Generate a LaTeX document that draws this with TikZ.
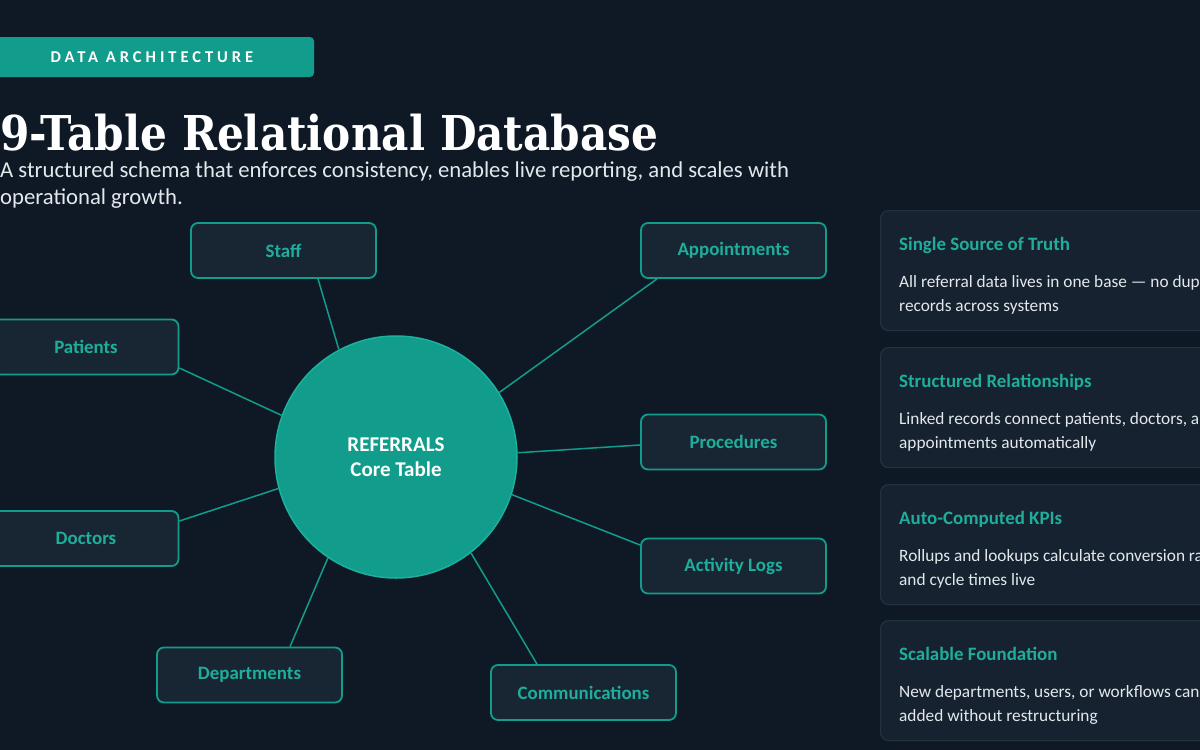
\documentclass[tikz,border=0pt]{standalone}
\usepackage{fontspec}
\setmainfont{Carlito}
\newfontfamily\titlefont[FakeStretch=0.88]{DejaVu Serif}
\usetikzlibrary{calc}
\definecolor{bg}{HTML}{0F1926}
\definecolor{tealc}{HTML}{129C8B}
\definecolor{coreline}{HTML}{1CB09D}
\definecolor{tealtxt}{HTML}{1FAE9B}
\definecolor{boxfill}{HTML}{182634}
\definecolor{cardfill}{HTML}{162230}
\definecolor{cardline}{HTML}{23323F}
\definecolor{bodytxt}{HTML}{E3E8EC}
\tikzset{
  tablebox/.style={draw=tealc, line width=1.8pt, fill=boxfill, rounded corners=7pt,
    minimum width=185pt, minimum height=55pt, inner sep=0pt,
    text=tealtxt, font=\bfseries\fontsize{18.9}{20}\selectfont},
  link/.style={draw=tealc, line width=1.5pt},
  card/.style={draw=cardline, line width=1.2pt, fill=cardfill, rounded corners=8pt,
    minimum width=340pt, minimum height=120pt, anchor=north west, inner sep=0pt},
  cardtitle/.style={anchor=base west, inner sep=0pt, text=tealtxt, font=\bfseries\fontsize{18.9}{20}\selectfont},
  cardbody/.style={anchor=base west, inner sep=0pt, text=bodytxt, font=\fontsize{17.3}{18}\selectfont},
}
\begin{document}
\begin{tikzpicture}[x=1pt,y=-1pt]
\useasboundingbox (0,0) rectangle (1200,750);
\fill[bg] (0,0) rectangle (1200,750);
\begin{scope}
\clip (0,0) rectangle (1200,750);
% badge
\node[fill=tealc, rounded corners=4pt, minimum width=324pt, minimum height=40pt, inner sep=0pt,
  text=white, font=\bfseries\fontsize{16.5}{18}\selectfont\addfontfeatures{LetterSpace=24}] (badge) at (152,57) {DATA ARCHITECTURE};
% title
\node[anchor=base west, inner sep=0pt, text=white, font=\titlefont\bfseries\fontsize{48}{50}\selectfont] (title) at (0,150) {9-Table Relational Database};
\node[anchor=base west, inner sep=0pt, text=bodytxt, font=\fontsize{22.7}{27}\selectfont] (sub1) at (0,177) {A structured schema that enforces consistency, enables live reporting, and scales with};
\node[anchor=base west, inner sep=0pt, text=bodytxt, font=\fontsize{22.7}{27}\selectfont] (sub2) at (0,204) {operational growth.};
% core
\node[circle, fill=tealc, draw=coreline, line width=1.5pt, inner sep=0pt, minimum size=242pt, text=white,
  align=center, font=\bfseries\fontsize{21}{25}\selectfont] (core) at (396,457) {REFERRALS\\Core Table};
% tables
\node[tablebox] (staff) at (283.5,250.5) {Staff};
\node[tablebox] (patients) at (86,347) {Patients};
\node[tablebox] (doctors) at (86,538.5) {Doctors};
\node[tablebox] (departments) at (249.5,675) {Departments};
\node[tablebox] (communications) at (583.5,692.5) {Communications};
\node[tablebox] (activity) at (733.5,566) {Activity Logs};
\node[tablebox] (procedures) at (733.5,442) {Procedures};
\node[tablebox] (appointments) at (733.5,250.5) {Appointments};
% links
\draw[link] ([xshift=34.5pt]staff.south) -- (core.118);
\draw[link] ([yshift=-21pt]patients.east) -- (core.160);
\draw[link] ([yshift=17.5pt]doctors.east) -- (core.195);
\draw[link] ([xshift=40.5pt]departments.north) -- (core.236);
\draw[link] ([xshift=-46.5pt]communications.north) -- (core.-52);
\draw[link] ([yshift=21pt]activity.west) -- (core.-18);
\draw[link] ([yshift=-3pt]procedures.west) -- (core.2);
\draw[link] ([xshift=-76.5pt]appointments.south) -- (core.32);
% cards
\node[card] (c1) at (880,210) {};
\node[cardtitle] (c1t) at (899,250) {Single Source of Truth};
\node[cardbody] (c1a) at (899,287) {All referral data lives in one base — no duplicate};
\node[cardbody] (c1b) at (899,311) {records across systems};
\node[card] (c2) at (880,347) {};
\node[cardtitle] (c2t) at (899,387) {Structured Relationships};
\node[cardbody] (c2a) at (899,424) {Linked records connect patients, doctors, and};
\node[cardbody] (c2b) at (899,448) {appointments automatically};
\node[card] (c3) at (880,484) {};
\node[cardtitle] (c3t) at (899,524) {Auto-Computed KPIs};
\node[cardbody] (c3a) at (899,561) {Rollups and lookups calculate conversion rates};
\node[cardbody] (c3b) at (899,585) {and cycle times live};
\node[card] (c4) at (880,620) {};
\node[cardtitle] (c4t) at (899,660) {Scalable Foundation};
\node[cardbody] (c4a) at (899,697) {New departments, users, or workflows can be};
\node[cardbody] (c4b) at (899,721) {added without restructuring};
\end{scope}
\end{tikzpicture}
\end{document}
